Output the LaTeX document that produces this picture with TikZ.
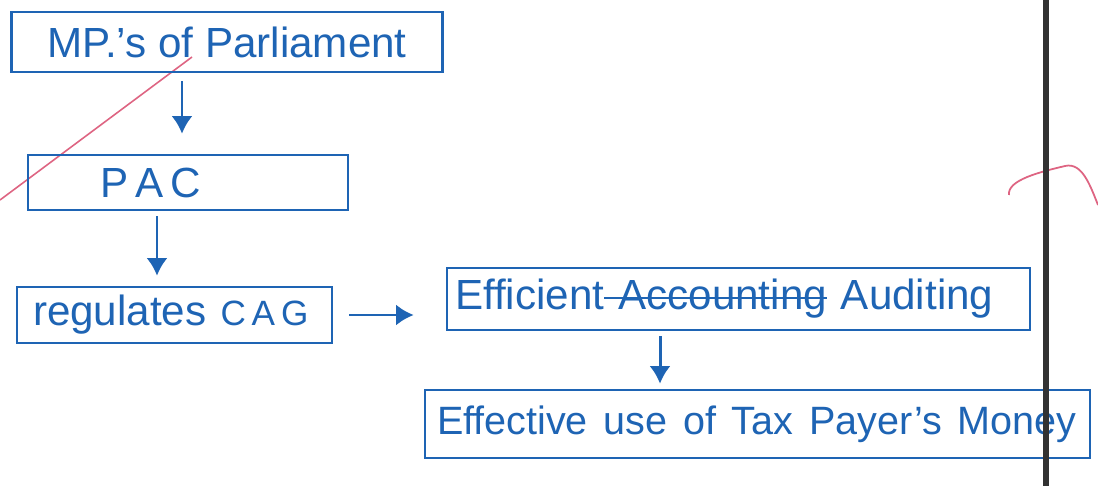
\documentclass[tikz,border=0pt]{standalone}
\usepackage{fontspec}
\setmainfont{Liberation Sans}
\usetikzlibrary{arrows.meta}
\definecolor{ink}{RGB}{30,100,180}
\definecolor{redink}{RGB}{222,100,130}
\definecolor{margin}{RGB}{50,50,50}
\newdimen\px \px=0.02cm
% a word with a line struck through it
\newcommand\struck[1]{\setbox0\hbox{#1}\rlap{\rule[6pt]{\wd0}{1.3pt}}\box0}
% a slightly wider word gap
\newcommand\gap{\hspace{9pt}}
\begin{document}
\begin{tikzpicture}[x=0.02cm, y=-0.02cm,
  box/.style={draw=ink, line width=1.5pt, text=ink, inner ysep=0pt,
    font=\fontsize{24}{28}\selectfont},
  arr/.style={draw=ink, line width=1.7pt, -{Latex[length=10pt,width=12pt]}}]
\useasboundingbox (0,0) rectangle (1098,486);
\fill[white] (0,0) rectangle (1098,486);

% pink ruled lines of the page
\draw[redink, line width=0.9pt] (0,200) -- (192,57);
\draw[redink, line width=1pt] (1009,195) .. controls (1007,180) and (1040,172) .. (1065,166)
  .. controls (1082,162) and (1090,185) .. (1098,205);

% boxes
\node[box, minimum width=431\px, minimum height=60\px, inner xsep=0pt]
  (b1) at (227,42) {MP.'s of Parliament};
\node[box, minimum width=320\px, minimum height=55\px, inner xsep=72\px,
  text width=176\px, align=left]
  (b2) at (188,182.5) {\mbox{P\,A\,C}};
\node[box, minimum width=315\px, minimum height=56\px, inner xsep=16\px,
  text width=283\px, align=left]
  (b3) at (174.5,315) {\mbox{regulates\hspace{8pt}{\fontsize{20}{24}\selectfont C\,A\,G}}};
\node[box, minimum width=583\px, minimum height=62\px, inner xsep=8\px,
  text width=567\px, align=left]
  (b4) at (738.5,299) {\mbox{Efficient\struck{\ Accounting}\ Auditing}};
\node[box, minimum width=665\px, minimum height=68\px, inner xsep=12\px,
  text width=641\px, align=left, font=\fontsize{22.5}{27}\selectfont]
  (b5) at (757.5,424) {\mbox{Effective\gap use\gap of\gap Tax\gap Payer's\gap Money}};

% connectors
\draw[arr, shorten <=8\px, shorten >=20\px]
  ([xshift=-45\px]b1.south) -- ([xshift=-6\px]b2.north);
\draw[arr, shorten <=5\px, shorten >=10\px]
  ([xshift=-31\px]b2.south) -- ([xshift=-17.5\px]b3.north);
\draw[arr, shorten <=16\px, shorten >=32\px]
  (b3.east) -- (b3.east -| b4.west);
\draw[arr, shorten <=5\px, shorten >=5\px]
  ([xshift=-78.5\px]b4.south) -- ([xshift=-97.5\px]b5.north);

% page margin line
\draw[margin, line width=3.4pt] (1046,0) -- (1046,486);
\end{tikzpicture}
\end{document}
